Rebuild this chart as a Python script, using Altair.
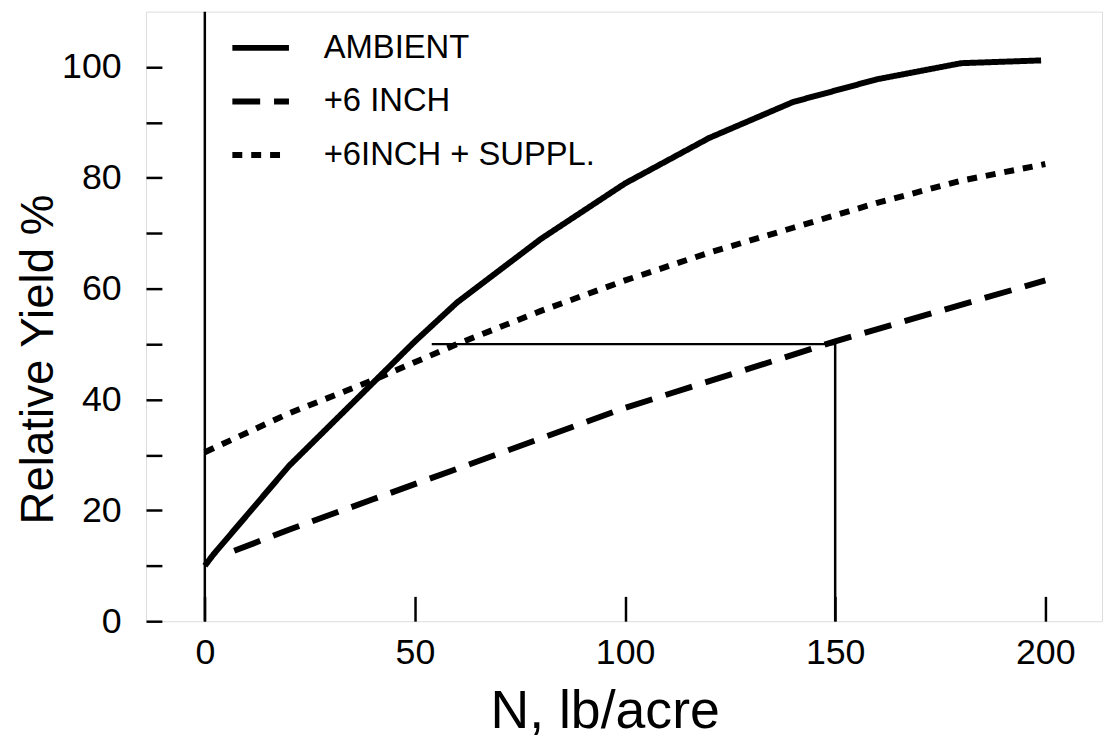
import altair as alt
import pandas as pd

# ---- data ----
ambient_n = [0, 2, 20, 40, 50, 60, 80, 100, 120, 140, 160, 180, 199]
ambient_y = [10, 12, 28, 43, 50.5, 57.5, 69, 79, 87.2, 93.7, 97.8, 100.7, 101.2]

inch6_n = [7, 20, 40, 60, 80, 100, 125, 150, 175, 200]
inch6_y = [12.7, 16.5, 22, 27.5, 33, 38.5, 44.5, 50.5, 56, 61.5]

suppl_n = [0, 20, 40, 60, 80, 100, 120, 140, 160, 180, 200]
suppl_y = [30.5, 37.5, 43.5, 50, 56, 61.5, 66.5, 71, 75.5, 79.5, 82.5]

series_names = ["AMBIENT", "+6 INCH", "+6INCH + SUPPL."]

guide_n = [54, 150, 150]
guide_y = [50, 50, 0]

zero_line_n = [0]
zero_line_y0 = [0]
zero_line_y1 = [110]

x_ticks = [0, 50, 100, 150, 200]
y_ticks = [0, 10, 20, 30, 40, 50, 60, 70, 80, 90, 100]

FONT = "Liberation Sans"

rows = []
for name, xs, ys in zip(series_names,
                        [ambient_n, inch6_n, suppl_n],
                        [ambient_y, inch6_y, suppl_y]):
    for i, (a, b) in enumerate(zip(xs, ys)):
        rows.append({"series": name, "N": a, "Y": b, "order": i})
df = pd.DataFrame(rows)

guide_df = pd.DataFrame({"N": guide_n, "Y": guide_y, "order": list(range(len(guide_n)))})
zero_df = pd.DataFrame({"N": zero_line_n, "Y0": zero_line_y0, "Y1": zero_line_y1})

xscale = alt.Scale(domain=[-14, 213.5], nice=False, zero=False)
yscale = alt.Scale(domain=[0, 110], nice=False, zero=False)

xaxis = alt.Axis(
    values=x_ticks, title="N, lb/acre", orient="bottom", offset=-25, tickSize=25,
    tickWidth=2.5, tickColor="black", domain=False, grid=False,
    labelFontSize=36, labelFont=FONT, labelColor="black", labelPadding=15,
    titleFontSize=54, titleFont=FONT, titleFontWeight="normal", titleColor="black",
    titleX=462, titleY=132, titleBaseline="alphabetic", titleAnchor="start", titleAlign="center",
)
yaxis = alt.Axis(
    values=y_ticks, title="Relative Yield %", orient="left", offset=-16, tickSize=16,
    tickWidth=2.5, tickColor="black", domain=False, grid=False,
    labelExpr="datum.value % 20 === 0 ? datum.label : ''",
    labelFontSize=36, labelFont=FONT, labelColor="black", labelPadding=25,
    titleFontSize=46, titleFont=FONT, titleFontWeight="normal", titleColor="black",
    titleAngle=-90, titleX=-110, titleY=350, titleBaseline="alphabetic", titleAlign="center",
)

lines = alt.Chart(df).mark_line(strokeWidth=6, color="black").encode(
    x=alt.X("N:Q", scale=xscale, axis=xaxis),
    y=alt.Y("Y:Q", scale=yscale, axis=yaxis),
    strokeDash=alt.StrokeDash(
        "series:N",
        scale=alt.Scale(domain=series_names, range=[[1, 0], [28, 14], [10, 9]]),
        legend=alt.Legend(
            title=None, orient="none", legendX=84, legendY=5,
            symbolType="stroke", symbolSize=3249, symbolStrokeWidth=6,
            symbolStrokeColor="black", labelFontSize=33, labelFont=FONT,
            labelColor="black", labelOffset=32, rowPadding=5, labelLimit=600,
        ),
        sort=series_names,
    ),
    order="order:Q",
)

guide = alt.Chart(guide_df).mark_line(strokeWidth=2.5, color="black").encode(
    x=alt.X("N:Q", scale=xscale), y=alt.Y("Y:Q", scale=yscale), order="order:Q"
)

zero_rule = alt.Chart(zero_df).mark_rule(strokeWidth=2.5, color="black").encode(
    x=alt.X("N:Q", scale=xscale), y=alt.Y("Y0:Q", scale=yscale), y2="Y1:Q"
)

chart = alt.layer(zero_rule, guide, lines).properties(
    width=963, height=614,
    autosize=alt.AutoSizeParams(type="none"),
    padding={"left": 139, "top": 1, "right": 4, "bottom": 117},
).configure_view(stroke="black", strokeWidth=3).configure(background="white")

chart.save("out.html", embed_options={"renderer": "svg", "actions": False})
